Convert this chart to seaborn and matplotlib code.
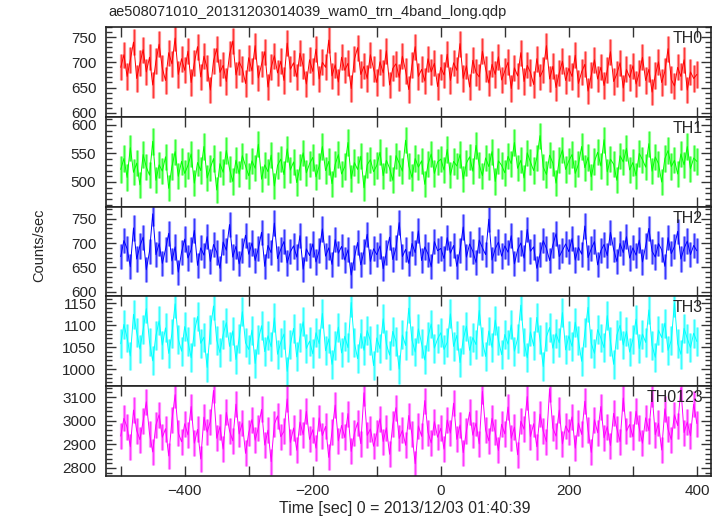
import numpy as np
import pandas as pd
import matplotlib
matplotlib.use("Agg")
import matplotlib.pyplot as plt
import seaborn as sns
from matplotlib.ticker import MultipleLocator

# light curve: 5 s bins from -500 to 400 s
time_sec = list(range(-500, 401, 5))

th0 = [690, 715, 672, 705, 740, 668, 698, 725, 681, 710, 655, 702, 736, 688, 664, 719, 697, 748, 676, 707,
       684, 722, 660, 699, 731, 671, 712, 689, 645, 703, 727, 680, 694, 662, 716, 742, 675, 701, 687, 658,
       709, 683, 733, 669, 696, 721, 651, 690, 713, 679, 702, 664, 738, 686, 699, 671, 718, 693, 657, 705,
       682, 726, 667, 700, 690, 744, 673, 695, 661, 710, 684, 698, 648, 706, 729, 676, 692, 668, 715, 687,
       660, 701, 679, 723, 655, 688, 697, 670, 712, 683, 646, 694, 731, 672, 686, 663, 707, 681, 698, 652,
       690, 675, 716, 664, 699, 684, 737, 668, 693, 651, 704, 680, 671, 722, 687, 659, 696, 676, 711, 665,
       683, 700, 648, 689, 673, 719, 662, 694, 680, 656, 707, 671, 685, 733, 667, 692, 650, 679, 702, 664,
       688, 672, 714, 658, 681, 696, 643, 675, 705, 667, 690, 654, 684, 721, 662, 677, 699, 649, 686, 670,
       693, 657, 679, 710, 664, 686, 641, 674, 701, 660, 682, 727, 666, 653, 690, 672, 705, 645, 681, 668,
       676]

th1 = [522, 541, 508, 560, 517, 533, 495, 548, 526, 512, 571, 503, 530, 519, 544, 489, 527, 553, 510, 536,
       515, 529, 549, 498, 534, 520, 562, 507, 525, 541, 486, 532, 517, 555, 523, 501, 538, 514, 546, 528,
       511, 537, 524, 566, 505, 530, 518, 547, 493, 529, 540, 513, 558, 521, 535, 499, 526, 551, 516, 532,
       543, 509, 528, 562, 520, 536, 497, 531, 548, 514, 527, 569, 506, 534, 522, 545, 490, 530, 539, 518,
       529, 552, 511, 538, 524, 503, 546, 533, 519, 573, 528, 508, 541, 526, 537, 496, 531, 549, 515, 535,
       540, 521, 557, 512, 536, 528, 548, 505, 533, 544, 519, 564, 530, 511, 542, 527, 553, 501, 537, 529,
       516, 545, 532, 569, 524, 538, 507, 551, 535, 520, 542, 581, 526, 513, 547, 533, 498, 539, 556, 522,
       537, 548, 515, 531, 562, 525, 543, 509, 536, 552, 528, 574, 518, 540, 531, 503, 546, 535, 559, 521,
       534, 511, 550, 539, 526, 567, 519, 544, 532, 500, 541, 555, 527, 538, 514, 549, 530, 562, 523, 542,
       536]

th2 = [672, 705, 688, 651, 731, 667, 694, 712, 645, 683, 760, 676, 699, 658, 687, 720, 663, 692, 640, 681,
       708, 669, 686, 726, 654, 690, 675, 713, 662, 697, 681, 648, 702, 685, 738, 671, 693, 657, 684, 716,
       677, 700, 664, 689, 722, 652, 695, 680, 741, 668, 687, 703, 659, 682, 694, 671, 715, 646, 688, 674,
       698, 661, 684, 729, 673, 690, 656, 707, 679, 693, 665, 686, 634, 670, 701, 655, 683, 718, 662, 688,
       676, 694, 647, 681, 712, 666, 690, 742, 672, 687, 658, 699, 680, 725, 664, 692, 677, 651, 703, 684,
       689, 668, 711, 679, 695, 652, 685, 733, 671, 698, 683, 660, 706, 690, 676, 749, 665, 688, 702, 673,
       694, 681, 715, 657, 686, 700, 669, 728, 683, 692, 648, 677, 705, 689, 664, 696, 719, 672, 685, 698,
       682, 709, 665, 691, 677, 735, 670, 688, 703, 655, 684, 697, 674, 722, 687, 662, 699, 680, 713, 669,
       690, 675, 706, 661, 694, 730, 683, 671, 699, 686, 652, 711, 678, 693, 724, 667, 689, 704, 676, 695,
       684]

th3 = [1058, 1102, 1071, 1030, 1125, 1084, 1046, 1090, 1138, 1062, 1019, 1077, 1110, 1055, 1094, 1036, 1081, 1149, 1068, 1041,
       1097, 1063, 1026, 1085, 1120, 1059, 1073, 1004, 1091, 1144, 1066, 1038, 1079, 1106, 1052, 1087, 1022, 1070, 1131, 1060,
       1045, 1089, 1013, 1067, 1099, 1040, 1076, 1051, 1117, 1034, 1061, 1080, 995, 1056, 1093, 1028, 1072, 1108, 1047, 1064,
       1035, 1083, 1058, 1127, 1042, 1069, 1011, 1054, 1096, 1037, 1075, 1049, 1152, 1060, 1024, 1081, 1043, 1088, 1065, 1008,
       1071, 1047, 1115, 1057, 1032, 1086, 1063, 1000, 1078, 1054, 1139, 1066, 1039, 1092, 1058, 1021, 1074, 1103, 1048, 1069,
       1083, 1045, 1061, 1126, 1052, 1077, 1015, 1068, 1098, 1043, 1072, 1056, 1134, 1064, 1029, 1087, 1050, 1112, 1066, 1033,
       1079, 1057, 1101, 1041, 1070, 1146, 1062, 1026, 1085, 1053, 1118, 1067, 1006, 1074, 1095, 1048, 1081, 1060, 1129, 1044,
       1076, 1052, 1107, 1065, 1018, 1083, 1141, 1059, 1036, 1090, 1071, 1049, 1122, 1063, 1011, 1078, 1100, 1055, 1086, 1039,
       1068, 1114, 1047, 1080, 1061, 1135, 1054, 1027, 1089, 1072, 1105, 1043, 1066, 1151, 1058, 1034, 1093, 1070, 1049, 1082,
       1063]

th0123 = [2935, 3010, 2972, 2890, 3045, 2958, 2920, 2998, 3080, 2945, 2868, 2982, 3025, 2930, 2966, 2851, 3002, 3110, 2948, 2911,
          2987, 2940, 3060, 2905, 2963, 2838, 3015, 2952, 2996, 3128, 2926, 2975, 2880, 3035, 2957, 2915, 3070, 2944, 2990, 2862,
          2950, 3005, 2918, 2971, 3048, 2897, 2960, 2827, 2986, 3020, 2932, 2955, 3092, 2908, 2969, 2875, 2994, 2941, 3040, 2921,
          2962, 2884, 3012, 2937, 2976, 2845, 2953, 3066, 2915, 2980, 2929, 3030, 2870, 2947, 2992, 2903, 3118, 2938, 2965, 2892,
          2946, 3008, 2912, 2970, 2858, 2984, 3055, 2925, 2959, 2896, 3022, 2942, 2818, 2978, 2934, 3085, 2950, 2906, 2996, 2930,
          2968, 2880, 3003, 2948, 3074, 2921, 2982, 2865, 2957, 3036, 2939, 2990, 2902, 3124, 2960, 2915, 3010, 2952, 2874, 2985,
          2944, 3058, 2926, 2973, 2856, 2998, 2964, 3102, 2933, 2987, 2890, 3028, 2955, 2911, 3135, 2969, 2935, 3045, 2902, 2978,
          2951, 3016, 2884, 2990, 2942, 3082, 2960, 2866, 3004, 2949, 3060, 2928, 2975, 2895, 3031, 2966, 2912, 3096, 2956, 2984,
          2932, 3040, 2968, 2905, 3012, 2958, 3112, 2941, 2989, 2876, 3050, 2963, 2920, 3025, 2979, 3138, 2950, 2994, 2936, 3070,
          2988]

band_names = ["TH0", "TH1", "TH2", "TH3", "TH0123"]
band_values = [th0, th1, th2, th3, th0123]
# typical 1-sigma error bar
band_errors = [26, 23, 26, 33, 55]
band_colors = ["#ff0000", "#00ff00", "#0000ff", "#00ffff", "#ff00ff"]
band_ylims = [(592, 770), (457, 614), (590, 775), (961, 1166), (2766, 3146)]
band_major = [50, 50, 50, 50, 100]
band_minor = [10, 10, 10, 10, 20]

sns.set_style("ticks")
plt.rcParams["font.family"] = ["Liberation Sans", "DejaVu Sans"]
plt.rcParams["font.size"] = 11

fig = plt.figure(figsize=(7.24, 5.16), dpi=100)
gs = fig.add_gridspec(5, 1, left=0.1464, right=0.982, top=0.9477, bottom=0.0775, hspace=0)

axes = []
for i in range(5):
    ax = fig.add_subplot(gs[i, 0], sharex=axes[0] if axes else None)
    axes.append(ax)
    df = pd.DataFrame({"time": time_sec, "rate": band_values[i]})
    err = band_errors[i]
    # error bars, drawn wide and pale so they fill the band like the original
    ax.vlines(df["time"], df["rate"] - err, df["rate"] + err,
              color=band_colors[i], alpha=0.45, linewidth=2.3)
    ax.vlines(df["time"], df["rate"] - err, df["rate"] + err,
              color=band_colors[i], alpha=0.7, linewidth=0.6)
    sns.lineplot(data=df, x="time", y="rate", ax=ax, color=band_colors[i],
                 linewidth=0.7, errorbar=None, sort=False)
    ax.set_ylim(*band_ylims[i])
    ax.set_xlim(-523, 422)
    ax.yaxis.set_major_locator(MultipleLocator(band_major[i]))
    ax.yaxis.set_minor_locator(MultipleLocator(band_minor[i]))
    ax.xaxis.set_major_locator(MultipleLocator(200))
    ax.xaxis.set_minor_locator(MultipleLocator(100))
    ax.tick_params(which="both", direction="in", top=True, right=True,
                   width=1.0, color="#333333", labelsize=11)
    ax.tick_params(which="major", length=7)
    ax.tick_params(which="minor", length=4)
    ax.tick_params(axis="x", which="minor", length=7)
    ax.tick_params(axis="x", pad=6)
    ax.tick_params(axis="y", pad=7)
    for s in ax.spines.values():
        s.set_linewidth(1.2)
        s.set_color("#222222")
    ax.set_xlabel("")
    ax.set_ylabel("")
    ax.text(0.987, 0.955, band_names[i], transform=ax.transAxes,
            ha="right", va="top", fontsize=11.5)
    if i < 4:
        ax.tick_params(axis="x", labelbottom=False)

fig.text(0.1492, 0.977, "ae508071010_20131203014039_wam0_trn_4band_long.qdp",
         ha="left", va="center", fontsize=10.5)
fig.text(0.054, 0.524, "Counts/sec", rotation=90, ha="center", va="center", fontsize=10.5)
fig.text(0.5595, 0.0155, "Time [sec] 0 = 2013/12/03 01:40:39", ha="center", va="center", fontsize=11.5)

fig.savefig("out.png", dpi=100)
